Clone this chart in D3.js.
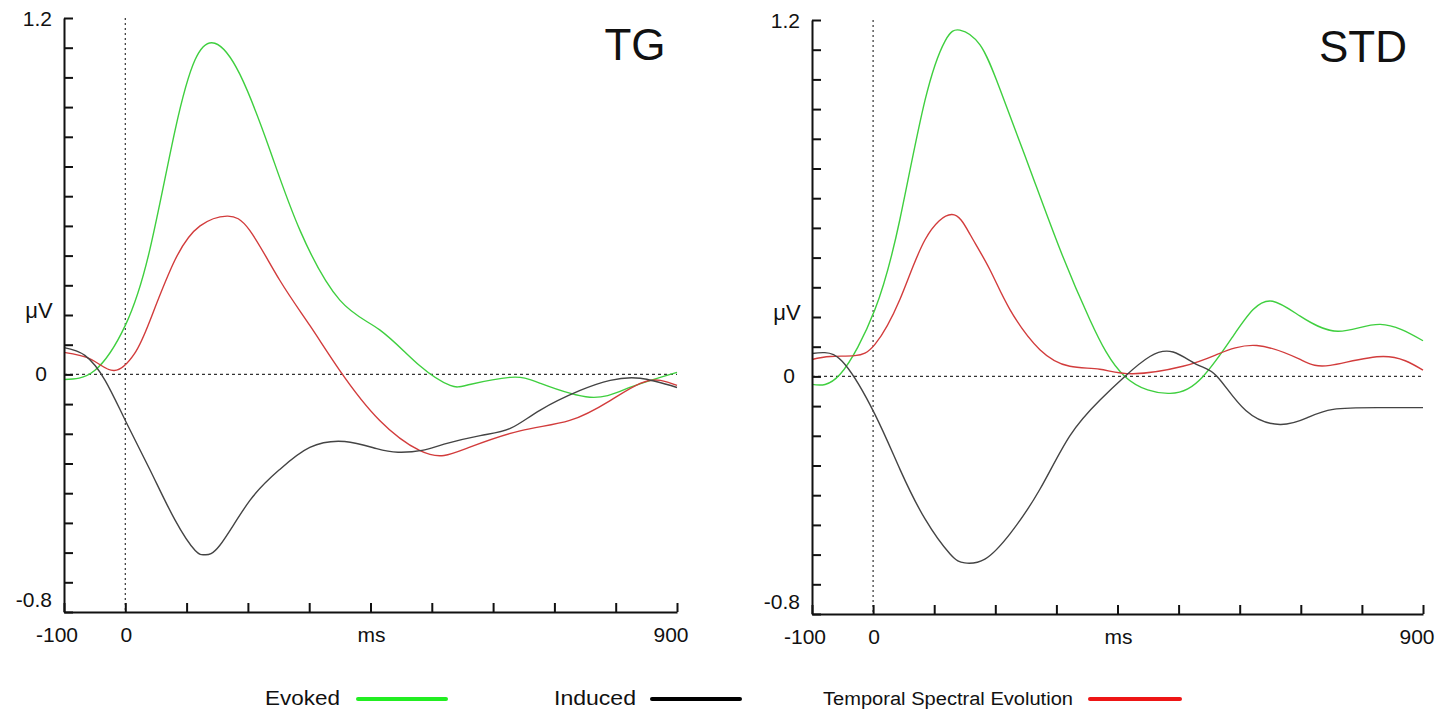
<!DOCTYPE html>
<html><head><meta charset="utf-8">
<script src="https://cdn.jsdelivr.net/npm/d3@7"></script>
<style>
body{margin:0;background:#fff;}
svg text{font-family:"Liberation Sans",Arial,sans-serif;fill:#111;}
</style></head>
<body><svg id="c" width="1452" height="711"></svg>
<script>
// ---- data ----
const panelTitles = ["TG", "STD"];
const xTickLabels = ["-100", "0", "ms", "900"];
const yTickLabels = ["1.2", "0", "-0.8"];
const seriesNames = ["Evoked", "Induced", "Temporal Spectral Evolution"];

// TG panel (time ms, value µV)
const tgEvoked = [[-100,-0.017],[-50,0.013],[0,0.165],[40,0.42],[81,0.82],[114,1.06],[146,1.115],[187,1.01],[236,0.755],[285,0.485],[350,0.25],[415,0.15],[480,0.03],[530,-0.037],[562,-0.034],[628,-0.01],[677,-0.03],[758,-0.077],[823,-0.044],[900,0.007]];
const tgTSE = [[-100,0.074],[-55,0.05],[-18,0.013],[15,0.07],[40,0.18],[81,0.385],[122,0.50],[166,0.533],[203,0.485],[252,0.317],[301,0.165],[350,0.013],[415,-0.155],[480,-0.256],[520,-0.273],[562,-0.245],[644,-0.19],[725,-0.155],[791,-0.088],[840,-0.03],[873,-0.02],[900,-0.037]];
const tgInduced = [[-100,0.09],[-66,0.064],[-33,-0.02],[0,-0.155],[40,-0.32],[81,-0.49],[114,-0.593],[130,-0.607],[154,-0.576],[203,-0.425],[252,-0.32],[301,-0.246],[358,-0.226],[410,-0.25],[445,-0.262],[484,-0.256],[520,-0.235],[579,-0.206],[628,-0.182],[677,-0.12],[742,-0.054],[791,-0.02],[840,-0.013],[900,-0.044]];

// STD panel
const stdEvoked = [[-100,-0.027],[-54,0.007],[3,0.225],[44,0.53],[85,0.93],[118,1.13],[142,1.166],[175,1.116],[208,0.965],[257,0.696],[306,0.427],[355,0.19],[412,0.0],[486,-0.057],[540,0.0],[589,0.135],[622,0.225],[654,0.253],[699,0.203],[761,0.152],[830,0.175],[900,0.12]];
const stdTSE = [[-100,0.057],[-70,0.067],[-30,0.07],[3,0.108],[44,0.26],[85,0.46],[129,0.545],[159,0.477],[191,0.36],[224,0.225],[273,0.09],[322,0.034],[371,0.024],[425,0.009],[507,0.034],[563,0.074],[628,0.104],[699,0.057],[748,0.037],[835,0.067],[900,0.021]];
const stdInduced = [[-100,0.077],[-79,0.08],[-46,0.04],[3,-0.128],[44,-0.313],[85,-0.48],[126,-0.598],[150,-0.628],[183,-0.615],[224,-0.53],[273,-0.38],[322,-0.2],[371,-0.08],[412,0.0],[453,0.067],[491,0.082],[530,0.04],[563,0.0],[610,-0.115],[666,-0.162],[710,-0.14],[753,-0.111],[825,-0.105],[900,-0.105]];

const xDomain = [-100, 900];
const yDomain = [-0.8, 1.2];
const xTickValues = d3.range(-100, 901, 100);
const yTickValues = d3.range(-8, 13, 1).map(d => d / 10);

// ---- layout / style ----
const colors = {Evoked: "#3fcf3f", Induced: "#444", TSE: "#d23c3c"};
const legendColors = {Evoked: "#22ee22", Induced: "#000", TSE: "#ee1515"};

const panels = [
  {title: panelTitles[0], x0: 64, x1: 677, yTop: 18, yBot: 612, titleX: 635, titleY: 60,
   series: [[tgEvoked, colors.Evoked], [tgTSE, colors.TSE], [tgInduced, colors.Induced]]},
  {title: panelTitles[1], x0: 812, x1: 1423, yTop: 20, yBot: 614, titleX: 1363, titleY: 62,
   series: [[stdEvoked, colors.Evoked], [stdTSE, colors.TSE], [stdInduced, colors.Induced]]}
];

const svg = d3.select("#c");

panels.forEach(p => {
  const x = d3.scaleLinear().domain(xDomain).range([p.x0, p.x1]);
  const y = d3.scaleLinear().domain(yDomain).range([p.yBot, p.yTop]);
  const g = svg.append("g");

  // dotted zero lines
  g.append("line").attr("x1", x(0)).attr("x2", x(0)).attr("y1", y(1.2)).attr("y2", y(-0.8))
    .attr("stroke", "#333").attr("stroke-width", 1.2).attr("stroke-dasharray", "2,3");
  g.append("line").attr("x1", x(-100)).attr("x2", x(900)).attr("y1", y(0)).attr("y2", y(0))
    .attr("stroke", "#333").attr("stroke-width", 1.2).attr("stroke-dasharray", "3,3");

  // curves
  const line = d3.line().x(d => x(d[0])).y(d => y(d[1])).curve(d3.curveNatural);
  p.series.forEach(([data, col]) => {
    g.append("path").datum(data).attr("d", line).attr("fill", "none")
      .attr("stroke", col).attr("stroke-width", 1.4);
  });

  // y axis (ticks pointing right)
  const ya = g.append("g").attr("transform", `translate(${p.x0},0)`)
    .call(d3.axisRight(y).tickValues(yTickValues).tickSize(9).tickSizeOuter(0).tickFormat(""));
  ya.selectAll("path,line").attr("stroke", "#111").attr("stroke-width", 2);

  // x axis (ticks pointing up)
  const xa = g.append("g").attr("transform", `translate(0,${p.yBot})`)
    .call(d3.axisTop(x).tickValues(xTickValues).tickSize(9).tickSizeOuter(0).tickFormat(""));
  xa.selectAll("path,line").attr("stroke", "#111").attr("stroke-width", 2);

  // y labels
  const yl = [[1.2, y(1.2) + 8, 12], [0, y(0) + 7, 17], [-0.8, y(-0.8) - 5, 12]];
  yl.forEach(([v, py, off], i) => {
    g.append("text").attr("x", p.x0 - off).attr("y", py).attr("text-anchor", "end")
      .attr("font-size", 21).text(yTickLabels[i]);
  });
  g.append("text").attr("x", p.x0 - 25).attr("y", y(0.19)).attr("text-anchor", "middle")
    .attr("font-size", 22).text("μV");

  // x labels
  const xl = [[-100, x(-100) - 7], [0, x(0) + 1], [400, x(400) + 1], [900, x(900) - 6]];
  xl.forEach(([v, px], i) => {
    g.append("text").attr("x", px).attr("y", p.yBot + 30).attr("text-anchor", "middle")
      .attr("font-size", 21).text(xTickLabels[i]);
  });

  // title
  g.append("text").attr("x", p.titleX).attr("y", p.titleY).attr("text-anchor", "middle")
    .attr("font-size", 44).text(p.title);
});

// legend
const legend = [
  {name: seriesNames[0], tx: 265, tw: 75, fs: 21, lx0: 358, lx1: 446, col: legendColors.Evoked},
  {name: seriesNames[1], tx: 554, tw: 82, fs: 21, lx0: 652, lx1: 740, col: legendColors.Induced},
  {name: seriesNames[2], tx: 823, tw: 250, fs: 18, lx0: 1090, lx1: 1180, col: legendColors.TSE}
];
legend.forEach(l => {
  svg.append("text").attr("x", l.tx).attr("y", 705).attr("font-size", l.fs)
    .attr("textLength", l.tw).attr("lengthAdjust", "spacingAndGlyphs").text(l.name);
  svg.append("line").attr("x1", l.lx0).attr("x2", l.lx1).attr("y1", 699).attr("y2", 699)
    .attr("stroke", l.col).attr("stroke-width", 4).attr("stroke-linecap", "round");
});
</script>
</body></html>
